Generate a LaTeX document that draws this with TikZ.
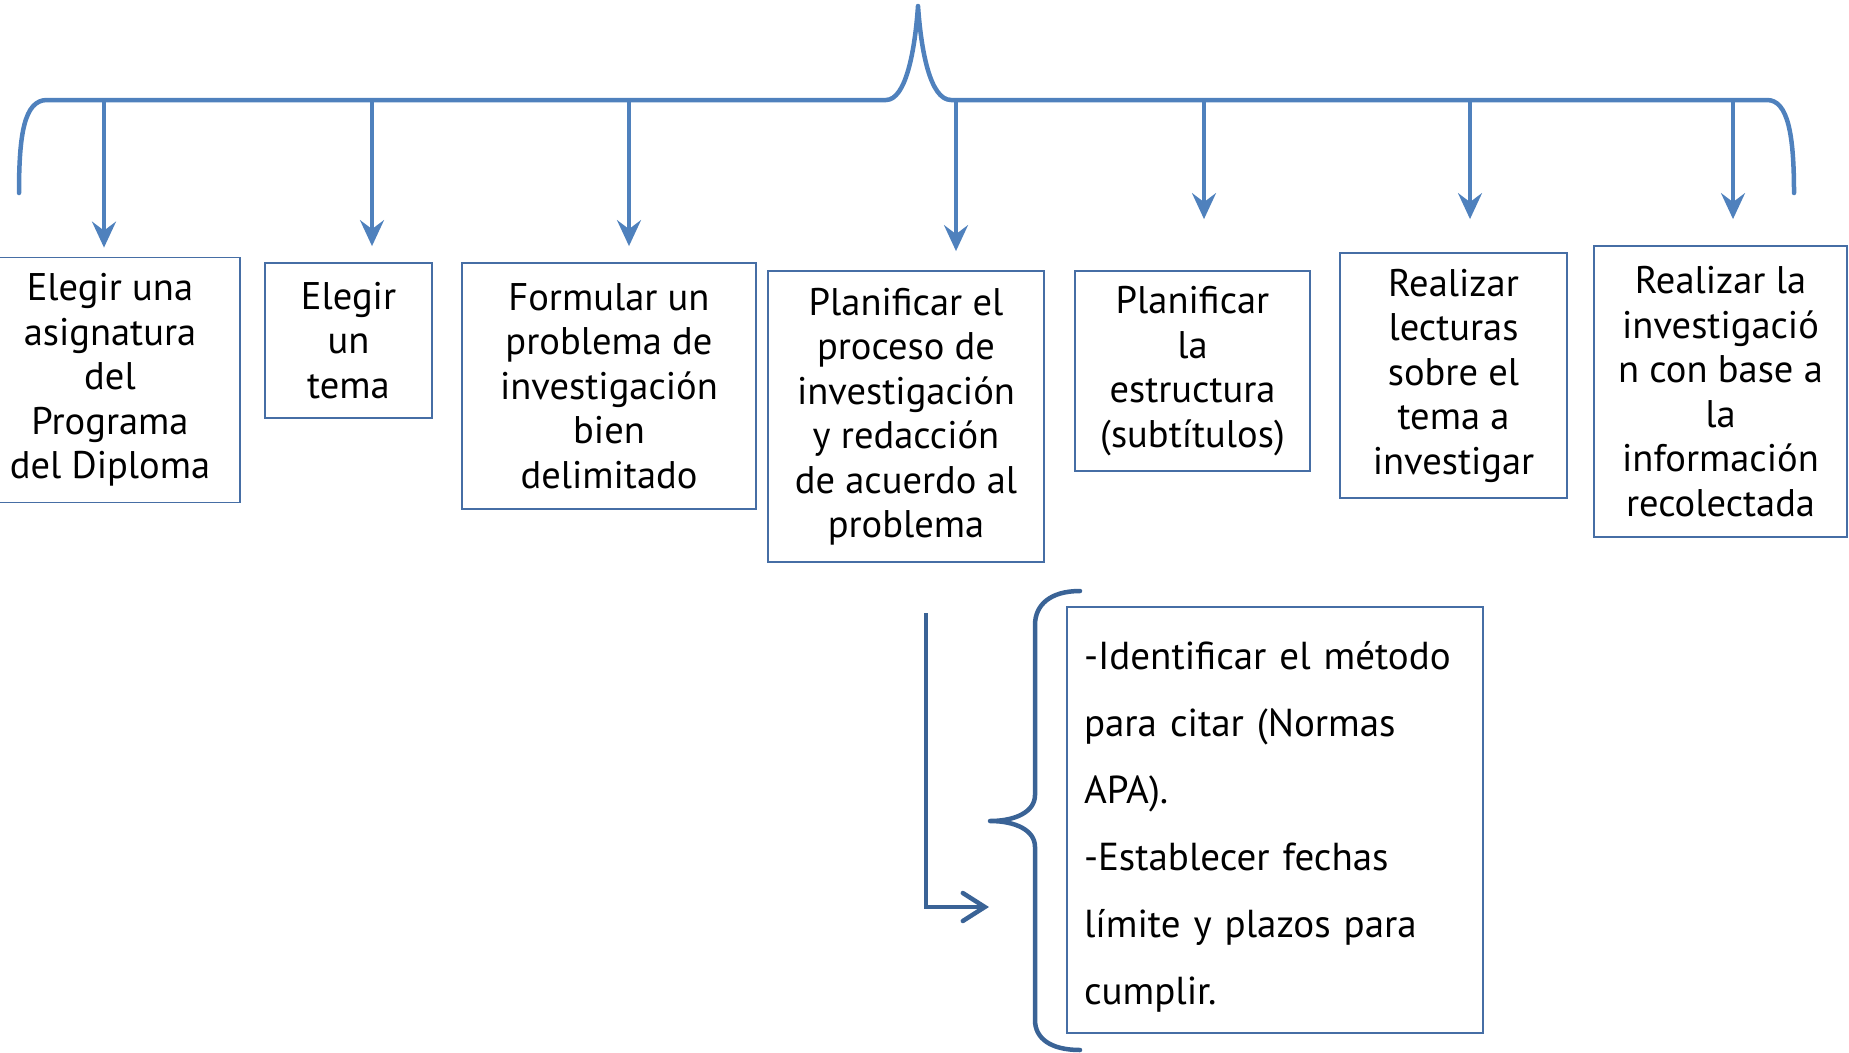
\documentclass[tikz,border=0pt]{standalone}
\usepackage{fontspec}
\setmainfont{PT Sans}
\usetikzlibrary{arrows.meta}
\definecolor{topblue}{RGB}{79,129,189}
\definecolor{lowblue}{RGB}{58,99,150}
\definecolor{boxblue}{RGB}{70,110,165}
\begin{document}
\begin{tikzpicture}[x=1pt,y=-1pt,
  stepbox/.style={draw=boxblue, line width=1.8pt, inner sep=0pt, align=center,
    font=\fontsize{38.5}{44.5}\selectfont, text=black},
  notebox/.style={draw=boxblue, line width=1.8pt, inner xsep=17pt, inner ysep=0pt,
    text width=382pt, align=left, font=\fontsize{39}{67}\selectfont, text=black},
  downarrow/.style={draw=topblue, line width=3.5pt,
    -{Stealth[length=26pt,width=24pt,inset=9pt]}},
  brace/.style={line width=4.5pt, line cap=round, line join=round},
  ]
\useasboundingbox (0,0) rectangle (1849,1052);

% boxes
\node[stepbox, minimum width=260pt, minimum height=245pt] (b1) at (110,380)
  {Elegir una\\asignatura\\del\\Programa\\del Diploma};
\node[stepbox, minimum width=167pt, minimum height=155pt] (b2) at (348.5,340.5)
  {Elegir\\un\\tema};
\node[stepbox, minimum width=294pt, minimum height=246pt] (b3) at (609,386)
  {Formular un\\problema de\\investigación\\bien\\delimitado};
\node[stepbox, minimum width=276pt, minimum height=291pt] (b4) at (906,416.5)
  {Planificar el\\proceso de\\investigación\\y redacción\\de acuerdo al\\problema};
\node[stepbox, minimum width=235pt, minimum height=200pt] (b5) at (1192.5,371)
  {Planificar\\la\\estructura\\(subtítulos)};
\node[stepbox, minimum width=227pt, minimum height=245pt] (b6) at (1453.5,375.5)
  {Realizar\\lecturas\\sobre el\\tema a\\investigar};
\node[stepbox, minimum width=253pt, minimum height=291pt] (b7) at (1720.5,391.5)
  {Realizar la\\investigació\\n con base a\\la\\información\\recolectada};

\node[notebox, minimum height=426pt] (nb) at (1275,820)
  {\rule{0pt}{41pt}\mbox{-Identificar el método}\\\mbox{para citar (Normas}\\APA).\\\mbox{-Establecer fechas}\\\mbox{límite y plazos para}\\cumplir.};

% top brace
\draw[topblue, brace] (19,193) .. controls (19,135) and (24,100) .. (47,100)
  -- (886,100) .. controls (906,100) and (915,50) .. (918,6)
  .. controls (921,50) and (930,100) .. (951,100)
  -- (1767,100) .. controls (1788,100) and (1794,135) .. (1794,193);

% arrow tails on the bar
\coordinate (t1) at (104,98);
\coordinate (t2) at (372,98);
\coordinate (t3) at (629,98);
\coordinate (t4) at (956,98);
\coordinate (t5) at (1204,98);
\coordinate (t6) at (1470,98);
\coordinate (t7) at (1733,98);

\draw[downarrow, shorten >=9pt] (t1) -- (t1 |- b1.north);
\draw[downarrow, shorten >=16pt] (t2) -- (t2 |- b2.north);
\draw[downarrow, shorten >=16pt] (t3) -- (t3 |- b3.north);
\draw[downarrow, shorten >=19pt] (t4) -- (t4 |- b4.north);
\draw[downarrow, shorten >=51pt] (t5) -- (t5 |- b5.north);
\draw[downarrow, shorten >=33pt] (t6) -- (t6 |- b6.north);
\draw[downarrow, shorten >=26pt] (t7) -- (t7 |- b7.north);

% lower brace
\draw[lowblue, brace] (1080,591) .. controls (1050,591) and (1035,605) .. (1035,625)
  -- (1035,795) .. controls (1035,812) and (1015,821) .. (990,821)
  .. controls (1015,821) and (1035,830) .. (1035,847)
  -- (1035,1020) .. controls (1035,1038) and (1050,1050) .. (1080,1050);

% lower elbow arrow
\coordinate (l1) at (926,613);
\coordinate (l2) at (989,907);
\draw[lowblue, line width=4.5pt, -{Straight Barb[length=22pt,width=28pt,line cap=round]}] (l1) |- (l2);
\end{tikzpicture}
\end{document}
